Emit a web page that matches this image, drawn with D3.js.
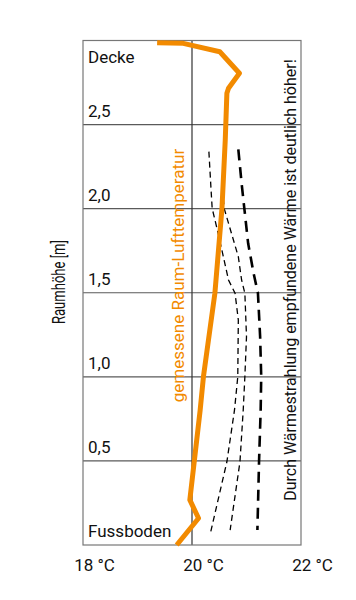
<!DOCTYPE html>
<html><head><meta charset="utf-8">
<script src="https://cdn.jsdelivr.net/npm/d3@7"></script>
<style>
html,body{margin:0;padding:0;background:#fff;}
svg{display:block;font-family:Roboto,"Noto Sans",sans-serif;}
</style></head>
<body>
<script>
// ---- data ----
const xTickValues = [18, 20, 22];
const xTickLabels = ["18 °C", "20 °C", "22 °C"];
const yTickValues = [0, 0.5, 1.0, 1.5, 2.0, 2.5];
const yTickLabels = ["Fussboden", "0,5", "1,0", "1,5", "2,0", "2,5"];
const topLabel = "Decke";
const yTitle = "Raumhöhe [m]";
const orangeLabel = "gemessene Raum-Lufttemperatur";
const blackLabel = "Durch Wärmestrahlung empfundene Wärme ist deutlich höher!";

// measured air temperature: [temperature °C, height m]
const airTemp = [[19.36,2.987],[19.84,2.983],[20.51,2.933],[20.87,2.805],[20.67,2.716],[20.64,2.686],
  [20.61,2.408],[20.55,2.002],[20.42,1.497],[20.21,1.001],[20.15,0.803],[19.96,0.268],[20.12,0.159],[19.72,0.0]];
// perceived temperature curves
const perceived1 = [[20.31,2.339],[20.35,2.111],[20.37,2.002],[20.48,1.853],[20.67,1.576],[20.79,1.497],
  [20.85,1.338],[20.84,1.001],[20.78,0.803],[20.64,0.495],[20.33,0.059]];
const perceived2 = [[20.56,2.121],[20.59,2.002],[20.85,1.714],[20.91,1.576],[20.97,1.497],[21.00,1.239],
  [20.97,1.001],[20.94,0.803],[20.88,0.495],[20.70,0.089]];
const perceived3 = [[20.85,2.353],[20.91,2.151],[20.96,2.002],[21.03,1.794],[21.13,1.616],[21.21,1.497],
  [21.25,1.239],[21.27,1.001],[21.26,0.803],[21.23,0.495],[21.20,0.089]];

// ---- layout ----
const W = 356, H = 600;
const pLeft = 83, pRight = 301, pTop = 40.5, pBottom = 545;
const x = d3.scaleLinear().domain([18, 22]).range([pLeft, pRight]);
const y = d3.scaleLinear().domain([0, 3]).range([pBottom, pTop]);

const svg = d3.select("body").append("svg").attr("width", W).attr("height", H);

// horizontal gridlines
svg.append("g").selectAll("line").data(yTickValues.filter(v => v > 0)).join("line")
  .attr("x1", pLeft).attr("x2", pRight)
  .attr("y1", d => y(d)).attr("y2", d => y(d))
  .attr("stroke", "#5a5a5a").attr("stroke-width", 1.2);

// vertical 20 °C line
svg.append("line").attr("x1", x(20)).attr("x2", x(20)).attr("y1", pTop).attr("y2", pBottom)
  .attr("stroke", "#333").attr("stroke-width", 1.2);

// frame
svg.append("rect").attr("x", pLeft).attr("y", pTop).attr("width", pRight - pLeft).attr("height", pBottom - pTop)
  .attr("fill", "none").attr("stroke", "#777").attr("stroke-width", 1.2);

// y tick labels
svg.append("g").selectAll("text").data(yTickValues).join("text")
  .attr("x", pLeft + 5).attr("y", d => y(d) - 8)
  .attr("font-size", 17).attr("fill", "#111")
  .text((d, i) => yTickLabels[i]);
svg.append("text").attr("x", pLeft + 5).attr("y", y(3) + 22)
  .attr("font-size", 17).attr("fill", "#111").text(topLabel);

// x axis labels
const xAxis = d3.axisBottom(x).tickValues(xTickValues).tickSize(0)
  .tickFormat((d, i) => xTickLabels[i]);
const gx = svg.append("g").attr("transform", `translate(11,${pBottom})`).call(xAxis);
gx.select(".domain").remove();
gx.selectAll("text").attr("font-size", 17).attr("font-family", "Roboto, sans-serif")
  .attr("fill", "#111").attr("dy", null).attr("y", 26);

// y title (condensed)
svg.append("text").attr("transform", `translate(64.5,282) rotate(-90)`)
  .attr("text-anchor", "middle").attr("font-size", 17.5)
  .attr("textLength", 84).attr("lengthAdjust", "spacingAndGlyphs")
  .attr("fill", "#111").text(yTitle);

// lines
const line = d3.line().x(d => x(d[0])).y(d => y(d[1]));
svg.append("path").datum(perceived1).attr("d", line).attr("fill", "none")
  .attr("stroke", "#000").attr("stroke-width", 1.3).attr("stroke-dasharray", "6,4");
svg.append("path").datum(perceived2).attr("d", line).attr("fill", "none")
  .attr("stroke", "#000").attr("stroke-width", 1.3).attr("stroke-dasharray", "6,4");
svg.append("path").datum(perceived3).attr("d", line).attr("fill", "none")
  .attr("stroke", "#000").attr("stroke-width", 2.6).attr("stroke-dasharray", "11,7");
svg.append("path").datum(airTemp).attr("d", line).attr("fill", "none")
  .attr("stroke", "#f28a00").attr("stroke-width", 5).attr("stroke-linejoin", "round");

// rotated annotations
svg.append("text").attr("transform", `translate(184,275.5) rotate(-90)`)
  .attr("text-anchor", "middle").attr("font-size", 17).attr("fill", "#f28a00").text(orangeLabel);
svg.append("text").attr("transform", `translate(296,280) rotate(-90)`)
  .attr("text-anchor", "middle").attr("font-size", 16).attr("fill", "#111").text(blackLabel);
</script>
</body></html>
